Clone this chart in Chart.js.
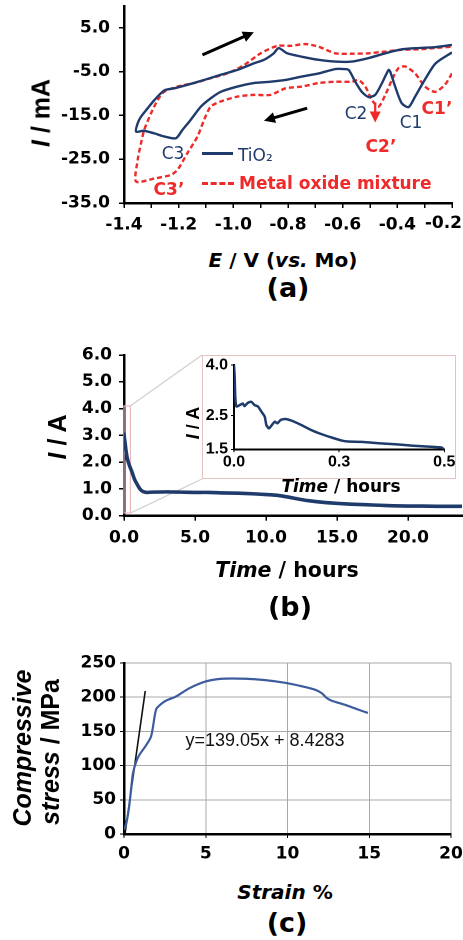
<!DOCTYPE html>
<html><head><meta charset="utf-8">
<script src="https://cdn.jsdelivr.net/npm/chart.js@4.4.1/dist/chart.umd.min.js"></script>
<style>
html,body{margin:0;padding:0;background:#fff;width:463px;height:940px;overflow:hidden;}
#page{position:relative;width:463px;height:940px;}
canvas{position:absolute;}
.t{position:absolute;white-space:nowrap;line-height:1;transform:translate(-50%,-50%);color:#000;font-weight:bold;}
.l{position:absolute;white-space:nowrap;line-height:1;transform:translate(0,-50%);}
.dv{font-family:"DejaVu Sans";}
.ar{font-family:"Liberation Sans",Arial,sans-serif;}
.rot{transform:translate(-50%,-50%) rotate(-90deg);}
i{font-style:italic;}
.nav{color:#1f3b6b;font-weight:normal;}
.red{color:#ee2a2a;font-weight:bold;}
</style></head>
<body><div id="page">
<canvas id="cA" width="463" height="240" style="left:0;top:0;width:463px;height:240px"></canvas>
<canvas id="cB" width="463" height="220" style="left:0;top:340px;width:463px;height:220px"></canvas>
<div style="position:absolute;left:202px;top:355px;width:252px;height:122px;border:1.5px solid #e6c3c3;background:#fff;"></div>
<canvas id="cI" width="254" height="124" style="left:202px;top:355px;width:254px;height:124px"></canvas>
<canvas id="cC" width="463" height="240" style="left:0;top:640px;width:463px;height:240px"></canvas>

<!-- panel (a) texts -->
<div class="t ar rot" style="left:41px;top:113px;font-size:25px"><i>I</i> / mA</div>
<div class="t dv" style="left:283px;top:260px;font-size:20px"><i>E</i> / V (<i>vs.</i> Mo)</div>
<div class="t dv" style="left:288px;top:287px;font-size:27px">(a)</div>
<div class="t dv nav" style="left:411px;top:122px;font-size:17px">C1</div>
<div class="t dv nav" style="left:356px;top:113px;font-size:17px">C2</div>
<div class="t dv nav" style="left:173px;top:153px;font-size:17px">C3</div>
<div class="t dv red" style="left:437px;top:108px;font-size:17px">C1’</div>
<div class="t dv red" style="left:381px;top:146px;font-size:17px">C2’</div>
<div class="t dv red" style="left:169px;top:189px;font-size:17px">C3’</div>
<div style="position:absolute;left:202px;top:152px;width:31px;height:0;border-top:3.5px solid #1f3b6b"></div>
<div class="l dv nav" style="left:238px;top:155px;font-size:17px">TiO₂</div>
<div style="position:absolute;left:202px;top:182px;width:32px;height:0;border-top:3px dashed #ee2a2a"></div>
<div class="l dv red" style="left:239px;top:183px;font-size:17px">Metal oxide mixture</div>

<!-- panel (b) texts -->
<div class="t ar rot" style="left:57px;top:437px;font-size:25px"><i>I</i> / A</div>
<div class="t dv" style="left:287px;top:570px;font-size:20.5px"><i>Time</i> / hours</div>
<div class="t dv" style="left:290px;top:606px;font-size:27px">(b)</div>
<div class="t ar rot" style="left:193px;top:423px;font-size:18px"><i>I</i> / A</div>
<div class="t dv" style="left:341px;top:486px;font-size:17px"><i>Time</i> / hours</div>

<!-- panel (c) texts -->
<div class="t ar rot" style="left:22px;top:748px;font-size:25px"><i>Compressive</i></div>
<div class="t ar rot" style="left:50px;top:752px;font-size:25px"><i>stress</i> / MPa</div>
<div class="t ar" style="left:265px;top:740px;font-size:18px;font-weight:normal;color:#111">y=139.05x + 8.4283</div>
<div class="t dv" style="left:285px;top:892px;font-size:20px"><i>Strain</i> %</div>
<div class="t dv" style="left:287px;top:922px;font-size:27px">(c)</div>
</div>
<script>
// ---------- DATA ----------
// (a) cyclic voltammograms, E in V vs Mo, I in mA (loop order: cathodic then anodic)
const tio2E = [-0.20,-0.26,-0.30,-0.335,-0.359,-0.384,-0.408,-0.426,-0.432,-0.456,-0.481,-0.505,-0.53,-0.554,-0.578,-0.597,-0.627,-0.688,-0.748,-0.809,-0.864,-0.925,-0.985,-1.046,-1.083,-1.119,-1.156,-1.186,-1.21,-1.253,-1.289,-1.326,-1.356,
               -1.35,-1.338,-1.314,-1.289,-1.253,-1.216,-1.168,-1.107,-1.046,-0.985,-0.925,-0.888,-0.852,-0.834,-0.803,-0.748,-0.688,-0.627,-0.566,-0.505,-0.444,-0.384,-0.323,-0.262,-0.20];
const tio2I = [-0.6,-3.1,-6.9,-10.7,-13.1,-12.2,-8.4,-5.0,-4.6,-7.6,-10.3,-10.8,-9.6,-7.3,-4.6,-4.4,-4.4,-5.4,-6.1,-6.9,-7.3,-7.6,-8.4,-9.6,-11.1,-13.0,-16.0,-18.3,-20.2,-19.8,-19.1,-18.5,-18.7,
               -16.8,-15.3,-13.4,-11.5,-9.3,-8.8,-8.0,-6.9,-5.7,-4.6,-3.1,-2.3,-0.8,0.4,-0.8,-1.6,-2.3,-2.7,-2.7,-1.9,-0.8,0.1,0.4,0.6,1.1];
const mixE = [-0.20,-0.226,-0.262,-0.299,-0.335,-0.372,-0.396,-0.42,-0.444,-0.469,-0.493,-0.517,-0.542,-0.566,-0.627,-0.688,-0.748,-0.809,-0.864,-0.925,-0.985,-1.046,-1.083,-1.107,-1.131,-1.168,-1.204,-1.229,-1.289,-1.356,
              -1.35,-1.338,-1.326,-1.301,-1.277,-1.253,-1.204,-1.144,-1.083,-1.022,-0.961,-0.9,-0.839,-0.791,-0.736,-0.688,-0.627,-0.566,-0.505,-0.444,-0.384,-0.323,-0.262,-0.20];
const mixI = [-5.4,-8.0,-9.6,-8.4,-5.4,-3.8,-4.2,-6.9,-10.3,-13.0,-11.5,-8.4,-6.9,-7.3,-7.3,-7.6,-8.4,-8.8,-10.3,-10.3,-10.7,-11.8,-13.0,-16.0,-19.8,-23.6,-27.4,-28.6,-29.4,-30.1,
              -25.2,-21.4,-18.3,-14.5,-11.5,-9.6,-8.4,-7.6,-6.5,-5.4,-3.5,-0.8,0.9,0.9,1.3,0.7,-0.8,-0.9,-0.8,-0.4,0.0,0.1,0.4,0.7];
const eTickPos = [-1.4,-1.3,-1.2,-1.1,-1.0,-0.9,-0.8,-0.7,-0.6,-0.5,-0.4,-0.3,-0.2];
const eTickLabels = [-1.4,-1.2,-1.0,-0.8,-0.6,-0.4];
const eEdgeLabel = -0.2;   // last label, drawn flush with the right edge
const iTicksA = [-35,-25,-15,-5,5];
// arrows in (a): [E1, I1, E2, I2]
const arrowUp = [-1.113,-1.17,-0.925,4.0];
const arrowDown = [-0.730,-13.35,-0.888,-16.2];
const arrowC2 = [-0.481,-12.0,-0.481,-16.6];

// (b) chronoamperometry, time in hours, current in A
const timeB = [0,0.03,0.08,0.15,0.25,0.4,0.55,0.75,0.95,1.15,1.35,1.6,2,3,4,5,6,7,8,9,10,10.8,11.5,12.3,13,14,15,16,17,18,19,20,21,22,23,23.8];
const currentB = [3.1,2.9,2.7,2.4,2.1,1.85,1.65,1.35,1.15,0.98,0.9,0.87,0.88,0.89,0.88,0.87,0.87,0.85,0.84,0.82,0.79,0.76,0.7,0.62,0.56,0.5,0.46,0.43,0.41,0.39,0.37,0.36,0.36,0.35,0.35,0.35];
const timeTicksB = [0,5,10,15,20];
const currentTicksB = [0,1,2,3,4,5,6];
const zoomT = [0,0.45];
const zoomI = [0.1,4.1];
// inset (0 - 0.5 h)
const tInset = [0,0.0016,0.003,0.0056,0.0135,0.021,0.025,0.033,0.041,0.049,0.057,0.065,0.073,0.077,0.083,0.09,0.097,0.103,0.111,0.121,0.137,0.16,0.184,0.208,0.232,0.256,0.271,0.303,0.343,0.383,0.422,0.462,0.494,0.5];
const iInset = [4.0,3.65,3.06,2.77,2.81,2.86,2.78,2.88,2.91,2.81,2.77,2.62,2.47,2.22,2.12,2.22,2.32,2.27,2.37,2.40,2.35,2.22,2.07,1.95,1.85,1.76,1.73,1.72,1.68,1.65,1.61,1.58,1.55,1.48];
const insetTTicks = [0,0.25,0.5];
const insetTLabels = ['0.0','0.3','0.5'];
const insetITicks = [1.5,2.5,4.0];

// (c) compression test
const strain = [0,0.14,0.24,0.34,0.45,0.55,0.75,0.95,1.36,1.66,1.96,2.17,2.57,3.18,3.99,5.0,6.01,7.43,8.64,9.86,10.87,11.68,12.09,12.39,12.69,13.5,14.31,14.92];
const stress = [6,16,28,45,69,89,106,116,130,143,182,188,195,201,213,223,227,227,225,221,216,211,206,199,195,189,182,177];
const fitStrain = [0.06,1.3];
const fitStress = [0,209];
const strainTicks = [0,5,10,15,20];
const stressTicks = [0,50,100,150,200,250];

// ---------- helpers ----------
const NAVY = '#1f3b6b', RED = '#ee2a2a', BLUE_C = '#3d5c9e';
const pts = (xs, ys) => xs.map((x, i) => ({x: x, y: ys[i]}));
const tickFont = {family: '"DejaVu Sans"', weight: 'bold', size: 17};
const fixTicks = arr => s => { s.ticks = arr.map(v => ({value: v})); };
function xFit(h){ return s => { s.height = h; s.paddingLeft = 0; s.paddingRight = 0; }; }
function yFit(w){ return s => { s.width = w; s.paddingTop = 0; s.paddingBottom = 0; }; }
function drawArrow(ctx, x1, y1, x2, y2, color, w, hl, hw){
  const a = Math.atan2(y2 - y1, x2 - x1), c = Math.cos(a), s = Math.sin(a);
  ctx.save(); ctx.setLineDash([]); ctx.strokeStyle = color; ctx.fillStyle = color; ctx.lineWidth = w;
  ctx.beginPath(); ctx.moveTo(x1, y1); ctx.lineTo(x2 - hl * 0.7 * c, y2 - hl * 0.7 * s); ctx.stroke();
  ctx.beginPath(); ctx.moveTo(x2, y2);
  ctx.lineTo(x2 - hl * c + hw * s, y2 - hl * s - hw * c);
  ctx.lineTo(x2 - hl * c - hw * s, y2 - hl * s + hw * c);
  ctx.closePath(); ctx.fill(); ctx.restore();
}
const base = {responsive: false, animation: false, events: [], devicePixelRatio: 2,
  plugins: {legend: {display: false}, tooltip: {enabled: false}}};

// ---------- (a) ----------
const arrowPluginA = {id: 'arrowsA', afterDatasetsDraw(chart){
  const x = chart.scales.x, y = chart.scales.y, ctx = chart.ctx;
  [[arrowUp, '#000', 3], [arrowDown, '#000', 3], [arrowC2, RED, 2.2]].forEach(([a, col, w]) => {
    drawArrow(ctx, x.getPixelForValue(a[0]), y.getPixelForValue(a[1]), x.getPixelForValue(a[2]), y.getPixelForValue(a[3]), col, w, 11, 5.5);
  });
}, afterDraw(chart){
  const x = chart.scales.x, ctx = chart.ctx;
  ctx.save();
  ctx.font = 'bold 17px "DejaVu Sans"'; ctx.fillStyle = '#000';
  ctx.textAlign = 'right'; ctx.textBaseline = 'top';
  ctx.fillText(eEdgeLabel.toFixed(1), chart.width - 1, x.top + 5 + 7);
  ctx.restore();
}};
new Chart(document.getElementById('cA'), {
  type: 'scatter',
  data: {datasets: [
    {data: pts(tio2E, tio2I), showLine: true, borderColor: NAVY, borderWidth: 2.4, pointRadius: 0, tension: 0.25},
    {data: pts(mixE, mixI), showLine: true, borderColor: RED, borderWidth: 2.4, borderDash: [5, 3], pointRadius: 0, tension: 0.25}
  ]},
  options: Object.assign({}, base, {
    layout: {padding: {top: 6, right: 11, left: 0, bottom: 0}},
    scales: {
      x: {type: 'linear', min: -1.4, max: -0.2, afterBuildTicks: fixTicks(eTickPos), afterFit: xFit(37),
          ticks: {autoSkip: false, maxRotation: 0, minRotation: 0, font: tickFont, color: '#000', padding: 7,
                  callback: v => eTickLabels.some(l => Math.abs(l - v) < 1e-6) ? v.toFixed(1) : ''},
          grid: {drawOnChartArea: false, color: '#000', tickLength: 5, lineWidth: 1.5},
          border: {color: '#000', width: 2.5}},
      y: {type: 'linear', min: -35, max: 10, afterBuildTicks: fixTicks(iTicksA), afterFit: yFit(124),
          ticks: {font: tickFont, color: '#000', padding: 9, callback: v => v.toFixed(1)},
          grid: {drawOnChartArea: false, color: '#000', tickLength: 5, lineWidth: 1.5},
          border: {color: '#000', width: 2.5}}
    }
  }),
  plugins: [arrowPluginA]
});

// ---------- (b) ----------
const zoomPluginB = {id: 'zoomB', beforeDatasetsDraw(chart){
  const x = chart.scales.x, y = chart.scales.y, ctx = chart.ctx;
  const x0 = x.getPixelForValue(zoomT[0]), x1 = x.getPixelForValue(zoomT[1]);
  const y0 = y.getPixelForValue(zoomI[0]), y1 = y.getPixelForValue(zoomI[1]);
  ctx.save();
  ctx.strokeStyle = '#cfcfcf'; ctx.lineWidth = 1.2;
  ctx.beginPath(); ctx.moveTo(x1, y1); ctx.lineTo(202, 15); ctx.stroke();
  ctx.beginPath(); ctx.moveTo(x1, y0); ctx.lineTo(202, 139); ctx.stroke();
  ctx.strokeStyle = '#e8bcbc'; ctx.lineWidth = 1.2;
  ctx.strokeRect(x0, y1, x1 - x0, y0 - y1);
  ctx.restore();
}};
new Chart(document.getElementById('cB'), {
  type: 'scatter',
  data: {datasets: [
    {data: pts(timeB, currentB), showLine: true, borderColor: NAVY, borderWidth: 3.6, pointRadius: 0, tension: 0.3}
  ]},
  options: Object.assign({}, base, {
    layout: {padding: {top: 15, right: 1, left: 0, bottom: 0}},
    scales: {
      x: {type: 'linear', min: 0, max: 23.8, afterBuildTicks: fixTicks(timeTicksB), afterFit: xFit(44.3),
          ticks: {autoSkip: false, maxRotation: 0, minRotation: 0, font: tickFont, color: '#000', padding: 7, callback: v => v.toFixed(1)},
          grid: {drawOnChartArea: false, color: '#000', tickLength: 5, lineWidth: 1.5},
          border: {color: '#000', width: 2.5}},
      y: {type: 'linear', min: 0, max: 6, afterBuildTicks: fixTicks(currentTicksB), afterFit: yFit(124),
          ticks: {font: tickFont, color: '#000', padding: 7, callback: v => v.toFixed(1)},
          grid: {drawOnChartArea: false, color: '#000', tickLength: 5, lineWidth: 1.5},
          border: {color: '#000', width: 2.5}}
    }
  }),
  plugins: [zoomPluginB]
});

// inset
const insetFont = {family: '"Liberation Sans", Arial, sans-serif', weight: 'bold', size: 16};
new Chart(document.getElementById('cI'), {
  type: 'scatter',
  data: {datasets: [
    {data: pts(tInset, iInset), showLine: true, borderColor: NAVY, borderWidth: 2.5, pointRadius: 0, tension: 0.2}
  ]},
  options: Object.assign({}, base, {
    layout: {padding: {top: 10, right: 11.7, left: 0, bottom: 0}},
    scales: {
      x: {type: 'linear', min: 0, max: 0.5, afterBuildTicks: fixTicks(insetTTicks), afterFit: xFit(29.7),
          ticks: {autoSkip: false, maxRotation: 0, minRotation: 0, font: insetFont, color: '#000', padding: 0,
                  callback: v => insetTLabels[insetTTicks.findIndex(t => Math.abs(t - v) < 1e-9)]},
          grid: {drawOnChartArea: false, color: '#000', tickLength: 3, lineWidth: 1},
          border: {color: '#000', width: 2}},
      y: {type: 'linear', min: 1.5, max: 4.0, afterBuildTicks: fixTicks(insetITicks), afterFit: yFit(32),
          ticks: {font: insetFont, color: '#000', padding: 3, callback: v => v.toFixed(1)},
          grid: {drawOnChartArea: false, color: '#000', tickLength: 3, lineWidth: 1},
          border: {color: '#000', width: 2}}
    }
  })
});

// ---------- (c) ----------
new Chart(document.getElementById('cC'), {
  type: 'scatter',
  data: {datasets: [
    {data: pts(strain, stress), showLine: true, borderColor: BLUE_C, borderWidth: 2.2, pointRadius: 0, tension: 0.3},
    {data: pts(fitStrain, fitStress), showLine: true, borderColor: '#111', borderWidth: 1.6, pointRadius: 0, tension: 0}
  ]},
  options: Object.assign({}, base, {
    layout: {padding: {top: 23, right: 12, left: 0, bottom: 0}},
    scales: {
      x: {type: 'linear', min: 0, max: 20, afterBuildTicks: fixTicks(strainTicks), afterFit: xFit(46),
          ticks: {autoSkip: false, maxRotation: 0, minRotation: 0, font: tickFont, color: '#000', padding: 6, callback: v => String(v)},
          grid: {drawOnChartArea: true, color: '#a8a8a8', tickColor: '#000', tickLength: 4, lineWidth: 1},
          border: {color: '#000', width: 2.5}},
      y: {type: 'linear', min: 0, max: 250, afterBuildTicks: fixTicks(stressTicks), afterFit: yFit(124),
          ticks: {font: tickFont, color: '#000', padding: 4, callback: v => String(v)},
          grid: {drawOnChartArea: true, color: '#a8a8a8', tickColor: '#000', tickLength: 4, lineWidth: 1},
          border: {color: '#000', width: 2.5}}
    }
  })
});
</script>
</body></html>
